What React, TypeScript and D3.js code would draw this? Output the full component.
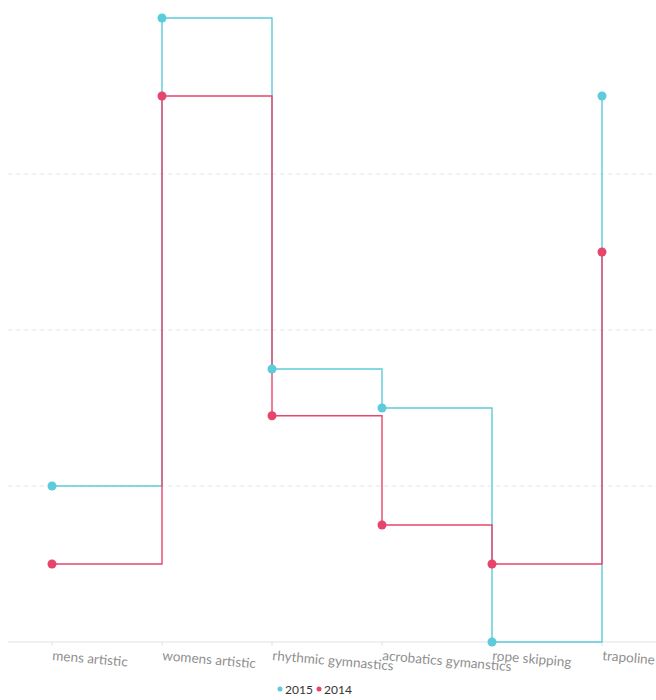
import React from "react";
import * as d3 from "d3";

const categories = ["mens artistic", "womens artistic", "rhythmic gymnastics", "acrobatics gymanstics", "rope skipping", "trapoline"];
const values2015 = [2, 8, 3.5, 3, 0, 7];
const values2014 = [1, 7, 2.9, 1.5, 1, 5];
const gridTicks = [2, 4, 6];
const seriesNames = ["2015", "2014"];
const colors = ["#5ccbdb", "#e8456b"];

const W = 656;
const H = 700;

export default function App() {
  const x = d3.scalePoint<string>().domain(categories).range([8, 646]).padding(0.4);
  const y = d3.scaleLinear().domain([0, 8]).range([642, 18]);
  const line = d3
    .line<number>()
    .x((_, i) => x(categories[i])!)
    .y((d) => y(d))
    .curve(d3.curveStepAfter);
  const series = [values2015, values2014];
  const font = "Lato, sans-serif";
  return (
    <svg width={W} height={H} style={{ position: "absolute", left: 0, top: 0 }}>
      {gridTicks.map((t) => (
        <line key={t} x1={8} x2={656} y1={y(t)} y2={y(t)} stroke="#e4e4e4" strokeDasharray="4,4" strokeWidth={1} />
      ))}
      <line x1={8} x2={656} y1={y(0)} y2={y(0)} stroke="#e2e2e2" strokeWidth={1} />
      {categories.map((c) => (
        <g key={c}>
          <line x1={x(c)!} x2={x(c)!} y1={y(0)} y2={y(0) + 4} stroke="#e2e2e2" />
          <text
            x={0}
            y={0}
            transform={`translate(${x(c)},${y(0) + 18}) rotate(5)`}
            fill="#8f8f8f"
            fontSize={13.5}
            fontFamily={font}
          >
            {c}
          </text>
        </g>
      ))}
      {series.map((s, si) => (
        <g key={si}>
          <path d={line(s)!} fill="none" stroke={colors[si]} strokeWidth={1.4} />
        </g>
      ))}
      {series.map((s, si) => (
        <g key={"p" + si}>
          {s.map((v, i) => (
            <circle key={i} cx={x(categories[i])!} cy={y(v)} r={4.5} fill={colors[si]} />
          ))}
        </g>
      ))}
      {seriesNames.map((n, i) => (
        <g key={n} transform={`translate(${280 + i * 39},689)`}>
          <circle cx={0} cy={0} r={2.5} fill={colors[i]} />
          <text x={5} y={5} fontSize={12} fill="#333" fontFamily={font}>
            {n}
          </text>
        </g>
      ))}
    </svg>
  );
}
